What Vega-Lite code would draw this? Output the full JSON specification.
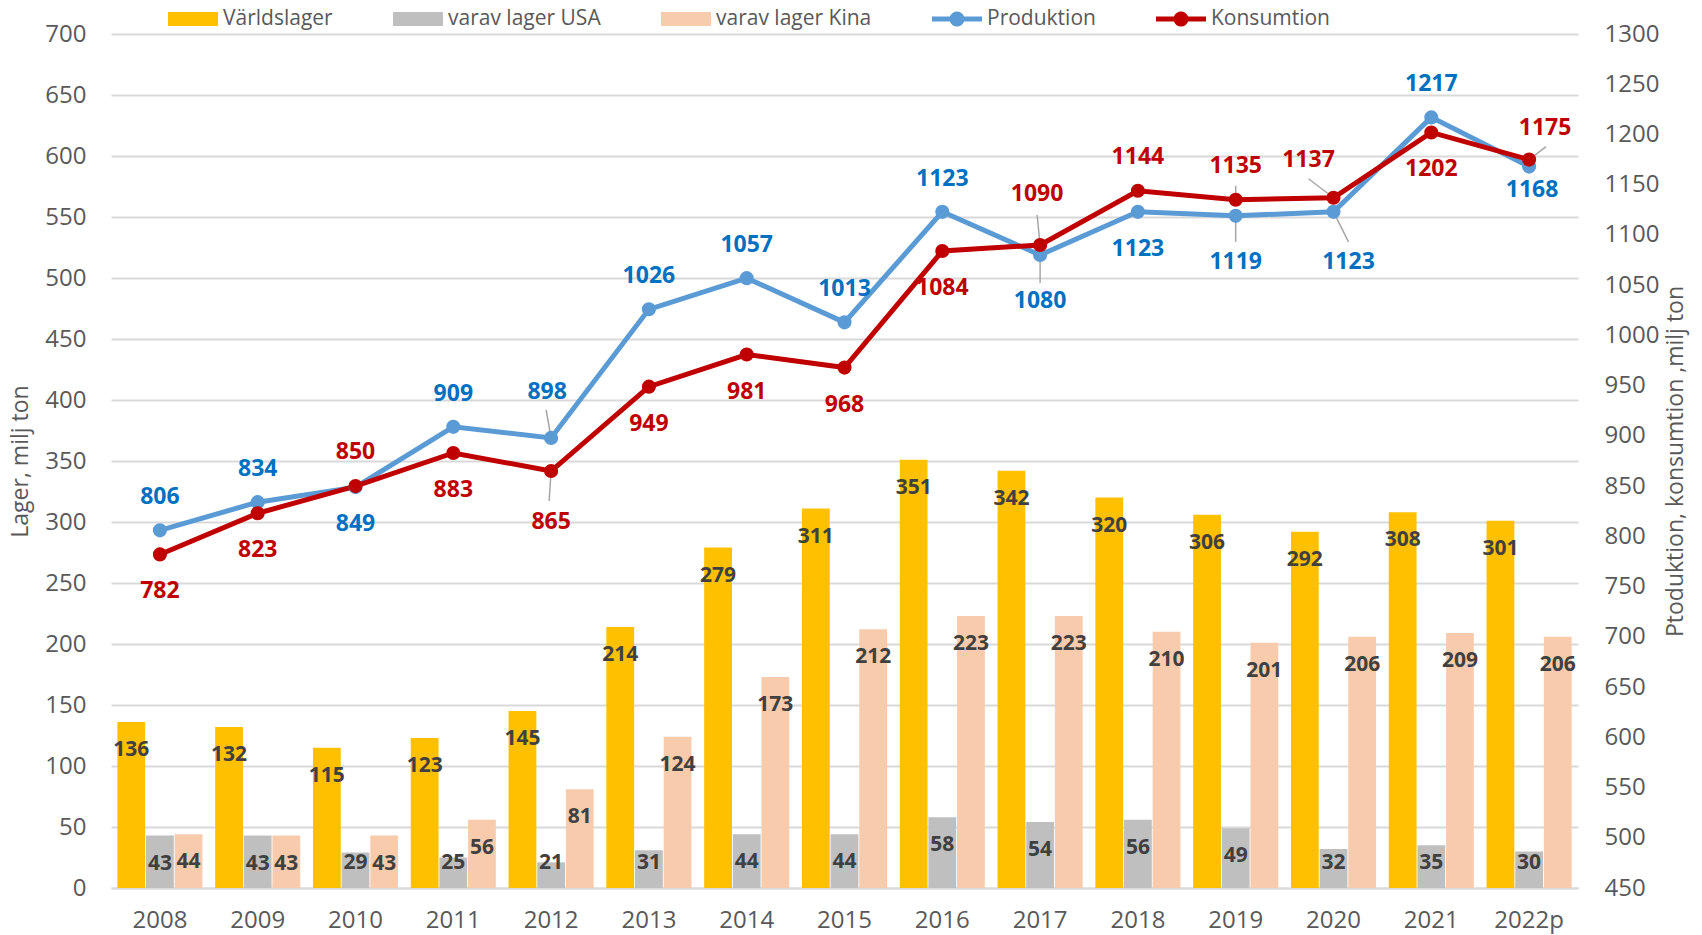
{
  "$schema": "https://vega.github.io/schema/vega-lite/v6.json",
  "width": 1467,
  "height": 854,
  "autosize": {"type": "none"},
  "padding": {"left": 111, "top": 34, "right": 124, "bottom": 47},
  "background": "white",
  "config": {
    "font": "Open Sans",
    "view": {"stroke": null},
    "axis": {
      "labelFont": "Open Sans",
      "titleFont": "Open Sans",
      "labelColor": "#595959",
      "titleColor": "#595959",
      "labelFontSize": 24,
      "titleFontSize": 23,
      "titleFontWeight": "normal",
      "ticks": false,
      "domain": false,
      "gridColor": "#D9D9D9",
      "gridWidth": 2
    }
  },
  "datasets": {
    "lager": [
      {"year": "2008", "series": "Världslager", "value": 136},
      {"year": "2009", "series": "Världslager", "value": 132},
      {"year": "2010", "series": "Världslager", "value": 115},
      {"year": "2011", "series": "Världslager", "value": 123},
      {"year": "2012", "series": "Världslager", "value": 145},
      {"year": "2013", "series": "Världslager", "value": 214},
      {"year": "2014", "series": "Världslager", "value": 279},
      {"year": "2015", "series": "Världslager", "value": 311},
      {"year": "2016", "series": "Världslager", "value": 351},
      {"year": "2017", "series": "Världslager", "value": 342},
      {"year": "2018", "series": "Världslager", "value": 320},
      {"year": "2019", "series": "Världslager", "value": 306},
      {"year": "2020", "series": "Världslager", "value": 292},
      {"year": "2021", "series": "Världslager", "value": 308},
      {"year": "2022p", "series": "Världslager", "value": 301},
      {"year": "2008", "series": "varav lager USA", "value": 43},
      {"year": "2009", "series": "varav lager USA", "value": 43},
      {"year": "2010", "series": "varav lager USA", "value": 29},
      {"year": "2011", "series": "varav lager USA", "value": 25},
      {"year": "2012", "series": "varav lager USA", "value": 21},
      {"year": "2013", "series": "varav lager USA", "value": 31},
      {"year": "2014", "series": "varav lager USA", "value": 44},
      {"year": "2015", "series": "varav lager USA", "value": 44},
      {"year": "2016", "series": "varav lager USA", "value": 58},
      {"year": "2017", "series": "varav lager USA", "value": 54},
      {"year": "2018", "series": "varav lager USA", "value": 56},
      {"year": "2019", "series": "varav lager USA", "value": 49},
      {"year": "2020", "series": "varav lager USA", "value": 32},
      {"year": "2021", "series": "varav lager USA", "value": 35},
      {"year": "2022p", "series": "varav lager USA", "value": 30},
      {"year": "2008", "series": "varav lager Kina", "value": 44},
      {"year": "2009", "series": "varav lager Kina", "value": 43},
      {"year": "2010", "series": "varav lager Kina", "value": 43},
      {"year": "2011", "series": "varav lager Kina", "value": 56},
      {"year": "2012", "series": "varav lager Kina", "value": 81},
      {"year": "2013", "series": "varav lager Kina", "value": 124},
      {"year": "2014", "series": "varav lager Kina", "value": 173},
      {"year": "2015", "series": "varav lager Kina", "value": 212},
      {"year": "2016", "series": "varav lager Kina", "value": 223},
      {"year": "2017", "series": "varav lager Kina", "value": 223},
      {"year": "2018", "series": "varav lager Kina", "value": 210},
      {"year": "2019", "series": "varav lager Kina", "value": 201},
      {"year": "2020", "series": "varav lager Kina", "value": 206},
      {"year": "2021", "series": "varav lager Kina", "value": 209},
      {"year": "2022p", "series": "varav lager Kina", "value": 206}
    ],
    "linjer": [
      {"year": "2008", "series": "Produktion", "value": 806},
      {"year": "2009", "series": "Produktion", "value": 834},
      {"year": "2010", "series": "Produktion", "value": 849},
      {"year": "2011", "series": "Produktion", "value": 909},
      {"year": "2012", "series": "Produktion", "value": 898},
      {"year": "2013", "series": "Produktion", "value": 1026},
      {"year": "2014", "series": "Produktion", "value": 1057},
      {"year": "2015", "series": "Produktion", "value": 1013},
      {"year": "2016", "series": "Produktion", "value": 1123},
      {"year": "2017", "series": "Produktion", "value": 1080},
      {"year": "2018", "series": "Produktion", "value": 1123},
      {"year": "2019", "series": "Produktion", "value": 1119},
      {"year": "2020", "series": "Produktion", "value": 1123},
      {"year": "2021", "series": "Produktion", "value": 1217},
      {"year": "2022p", "series": "Produktion", "value": 1168},
      {"year": "2008", "series": "Konsumtion", "value": 782},
      {"year": "2009", "series": "Konsumtion", "value": 823},
      {"year": "2010", "series": "Konsumtion", "value": 850},
      {"year": "2011", "series": "Konsumtion", "value": 883},
      {"year": "2012", "series": "Konsumtion", "value": 865},
      {"year": "2013", "series": "Konsumtion", "value": 949},
      {"year": "2014", "series": "Konsumtion", "value": 981},
      {"year": "2015", "series": "Konsumtion", "value": 968},
      {"year": "2016", "series": "Konsumtion", "value": 1084},
      {"year": "2017", "series": "Konsumtion", "value": 1090},
      {"year": "2018", "series": "Konsumtion", "value": 1144},
      {"year": "2019", "series": "Konsumtion", "value": 1135},
      {"year": "2020", "series": "Konsumtion", "value": 1137},
      {"year": "2021", "series": "Konsumtion", "value": 1202},
      {"year": "2022p", "series": "Konsumtion", "value": 1175}
    ]
  },
  "encoding": {
    "x": {
      "field": "year",
      "type": "nominal",
      "scale": {
        "domain": ["2008","2009","2010","2011","2012","2013","2014","2015","2016","2017","2018","2019","2020","2021","2022p"],
        "paddingInner": 0.13,
        "paddingOuter": 0.065
      },
      "axis": {
        "title": null,
        "labelAngle": 0,
        "labelPadding": 20,
        "domain": true,
        "domainColor": "#D9D9D9",
        "domainWidth": 2,
        "grid": false
      }
    }
  },
  "layer": [
    {
      "data": {"name": "lager"},
      "encoding": {
        "y": {
          "field": "value",
          "type": "quantitative",
          "scale": {"domain": [0, 700], "nice": false},
          "axis": {
            "title": "Lager, milj ton",
            "values": [0,50,100,150,200,250,300,350,400,450,500,550,600,650,700],
            "grid": true,
            "labelPadding": 25,
            "titlePadding": 12
          }
        },
        "xOffset": {
          "field": "series",
          "type": "nominal",
          "sort": ["Världslager", "varav lager USA", "varav lager Kina"],
          "scale": {"paddingInner": 0.03, "paddingOuter": 0}
        }
      },
      "layer": [
        {
          "mark": {"type": "bar"},
          "encoding": {
            "color": {
              "field": "series",
              "type": "nominal",
              "scale": {
                "domain": ["Världslager", "varav lager USA", "varav lager Kina", "Produktion", "Konsumtion"],
                "range": ["#FFC000", "#BFBFBF", "#F8CBAD", "#5B9BD5", "#C00000"]
              },
              "legend": {
                "title": null,
                "orient": "none",
                "legendX": 57,
                "legendY": -40,
                "direction": "horizontal",
                "padding": 0,
                "symbolSize": 2500,
                "labelFont": "Open Sans",
                "labelFontSize": 21,
                "labelColor": "#595959",
                "labelOffset": 5,
                "columnPadding": 60,
                "encode": {
                  "symbols": {
                    "update": {
                      "shape": {"signal": "indexof(['Produktion','Konsumtion'], datum.value) >= 0 ? 'M-1,-0.1L-0.283,-0.1A0.3,0.3 0 0,1 0.283,-0.1L1,-0.1L1,0.1L0.283,0.1A0.3,0.3 0 0,1 -0.283,0.1L-1,0.1Z' : 'M-1,-0.28L1,-0.28L1,0.28L-1,0.28Z'"},
                      "fill": {"scale": "color", "field": "value"},
                      "stroke": {"value": "transparent"},
                      "strokeWidth": {"value": 0},
                      "opacity": {"value": 1}
                    }
                  }
                }
              }
            }
          }
        },
        {
          "transform": [{"filter": "datum.value >= 43"}],
          "mark": {"type": "text", "dy": 28, "fontWeight": "bold", "fontSize": 21, "color": "#404040", "font": "Open Sans"},
          "encoding": {"text": {"field": "value", "type": "quantitative"}}
        },
        {
          "transform": [{"filter": "datum.value < 43"}],
          "mark": {"type": "text", "dy": -25, "fontWeight": "bold", "fontSize": 21, "color": "#404040", "font": "Open Sans"},
          "encoding": {
            "y": {
              "datum": 0,
              "type": "quantitative",
              "scale": {"domain": [0, 700], "nice": false},
              "axis": {
                "title": "Lager, milj ton",
                "values": [0,50,100,150,200,250,300,350,400,450,500,550,600,650,700],
                "grid": true,
                "labelPadding": 25,
                "titlePadding": 12
              }
            },
            "text": {"field": "value", "type": "quantitative"}
          }
        }
      ]
    },
    {
      "data": {"name": "linjer"},
      "encoding": {
        "y": {
          "field": "value",
          "type": "quantitative",
          "scale": {"domain": [450, 1300], "nice": false, "zero": false},
          "axis": {
            "orient": "right",
            "title": "Ptoduktion, konsumtion ,milj ton",
            "titleAngle": 270,
            "titleBaseline": "top",
            "format": "d",
            "values": [450,500,550,600,650,700,750,800,850,900,950,1000,1050,1100,1150,1200,1250,1300],
            "grid": false,
            "labelPadding": 26,
            "titlePadding": 6
          }
        }
      },
      "layer": [
        {
          "transform": [{"filter": {"and": [{"field": "series", "equal": "Produktion"}, {"field": "year", "equal": "2012"}]}}],
          "mark": {"type": "rule", "color": "#A6A6A6", "strokeWidth": 1.5, "y2Offset": -28, "x2Offset": -5},
          "encoding": {"x": {"field": "year", "type": "nominal", "bandPosition": 0.5}, "x2": {"field": "year", "bandPosition": 0.5}, "y2": {"field": "value"}}
        },
        {
          "transform": [{"filter": {"and": [{"field": "series", "equal": "Konsumtion"}, {"field": "year", "equal": "2012"}]}}],
          "mark": {"type": "rule", "color": "#A6A6A6", "strokeWidth": 1.5, "y2Offset": 30, "x2Offset": -2},
          "encoding": {"x": {"field": "year", "type": "nominal", "bandPosition": 0.5}, "x2": {"field": "year", "bandPosition": 0.5}, "y2": {"field": "value"}}
        },
        {
          "transform": [{"filter": {"and": [{"field": "series", "equal": "Produktion"}, {"field": "year", "equal": "2017"}]}}],
          "mark": {"type": "rule", "color": "#A6A6A6", "strokeWidth": 1.5, "y2Offset": 28, "x2Offset": 0},
          "encoding": {"x": {"field": "year", "type": "nominal", "bandPosition": 0.5}, "x2": {"field": "year", "bandPosition": 0.5}, "y2": {"field": "value"}}
        },
        {
          "transform": [{"filter": {"and": [{"field": "series", "equal": "Konsumtion"}, {"field": "year", "equal": "2017"}]}}],
          "mark": {"type": "rule", "color": "#A6A6A6", "strokeWidth": 1.5, "y2Offset": -30, "x2Offset": -3},
          "encoding": {"x": {"field": "year", "type": "nominal", "bandPosition": 0.5}, "x2": {"field": "year", "bandPosition": 0.5}, "y2": {"field": "value"}}
        },
        {
          "transform": [{"filter": {"and": [{"field": "series", "equal": "Produktion"}, {"field": "year", "equal": "2019"}]}}],
          "mark": {"type": "rule", "color": "#A6A6A6", "strokeWidth": 1.5, "y2Offset": 26, "x2Offset": 0},
          "encoding": {"x": {"field": "year", "type": "nominal", "bandPosition": 0.5}, "x2": {"field": "year", "bandPosition": 0.5}, "y2": {"field": "value"}}
        },
        {
          "transform": [{"filter": {"and": [{"field": "series", "equal": "Konsumtion"}, {"field": "year", "equal": "2019"}]}}],
          "mark": {"type": "rule", "color": "#A6A6A6", "strokeWidth": 1.5, "y2Offset": -14, "x2Offset": 0},
          "encoding": {"x": {"field": "year", "type": "nominal", "bandPosition": 0.5}, "x2": {"field": "year", "bandPosition": 0.5}, "y2": {"field": "value"}}
        },
        {
          "transform": [{"filter": {"and": [{"field": "series", "equal": "Produktion"}, {"field": "year", "equal": "2020"}]}}],
          "mark": {"type": "rule", "color": "#A6A6A6", "strokeWidth": 1.5, "y2Offset": 30, "x2Offset": 15},
          "encoding": {"x": {"field": "year", "type": "nominal", "bandPosition": 0.5}, "x2": {"field": "year", "bandPosition": 0.5}, "y2": {"field": "value"}}
        },
        {
          "transform": [{"filter": {"and": [{"field": "series", "equal": "Konsumtion"}, {"field": "year", "equal": "2020"}]}}],
          "mark": {"type": "rule", "color": "#A6A6A6", "strokeWidth": 1.5, "y2Offset": -19, "x2Offset": -25},
          "encoding": {"x": {"field": "year", "type": "nominal", "bandPosition": 0.5}, "x2": {"field": "year", "bandPosition": 0.5}, "y2": {"field": "value"}}
        },
        {
          "transform": [{"filter": {"and": [{"field": "series", "equal": "Konsumtion"}, {"field": "year", "equal": "2022p"}]}}],
          "mark": {"type": "rule", "color": "#A6A6A6", "strokeWidth": 1.5, "y2Offset": -13, "x2Offset": 17},
          "encoding": {"x": {"field": "year", "type": "nominal", "bandPosition": 0.5}, "x2": {"field": "year", "bandPosition": 0.5}, "y2": {"field": "value"}}
        },
        {
          "mark": {"type": "line", "strokeWidth": 5},
          "encoding": {
            "color": {
              "field": "series",
              "type": "nominal",
              "scale": {
                "domain": ["Världslager", "varav lager USA", "varav lager Kina", "Produktion", "Konsumtion"],
                "range": ["#FFC000", "#BFBFBF", "#F8CBAD", "#5B9BD5", "#C00000"]
              }
            },
            "order": {"field": "year"}
          }
        },
        {
          "mark": {"type": "point", "filled": true, "shape": "circle", "size": 200, "opacity": 1},
          "encoding": {
            "color": {
              "field": "series",
              "type": "nominal",
              "scale": {
                "domain": ["Världslager", "varav lager USA", "varav lager Kina", "Produktion", "Konsumtion"],
                "range": ["#FFC000", "#BFBFBF", "#F8CBAD", "#5B9BD5", "#C00000"]
              }
            }
          }
        },
        {
          "transform": [{"filter": {"and": [{"field": "series", "equal": "Produktion"}, {"field": "year", "oneOf": ["2008","2009","2011","2013","2014","2015","2016","2021"]}]}}],
          "mark": {"type": "text", "fontWeight": "bold", "fontSize": 23, "color": "#0070C0", "dy": -33},
          "encoding": {"text": {"field": "value", "type": "quantitative"}}
        },
        {
          "transform": [{"filter": {"and": [{"field": "series", "equal": "Produktion"}, {"field": "year", "oneOf": ["2010","2018"]}]}}],
          "mark": {"type": "text", "fontWeight": "bold", "fontSize": 23, "color": "#0070C0", "dy": 37},
          "encoding": {"text": {"field": "value", "type": "quantitative"}}
        },
        {
          "transform": [{"filter": {"and": [{"field": "series", "equal": "Produktion"}, {"field": "year", "equal": "2012"}]}}],
          "mark": {"type": "text", "fontWeight": "bold", "fontSize": 23, "color": "#0070C0", "dy": -46, "dx": -4},
          "encoding": {"text": {"field": "value", "type": "quantitative"}}
        },
        {
          "transform": [{"filter": {"and": [{"field": "series", "equal": "Produktion"}, {"field": "year", "oneOf": ["2017","2019"]}]}}],
          "mark": {"type": "text", "fontWeight": "bold", "fontSize": 23, "color": "#0070C0", "dy": 46},
          "encoding": {"text": {"field": "value", "type": "quantitative"}}
        },
        {
          "transform": [{"filter": {"and": [{"field": "series", "equal": "Produktion"}, {"field": "year", "equal": "2020"}]}}],
          "mark": {"type": "text", "fontWeight": "bold", "fontSize": 23, "color": "#0070C0", "dy": 50, "dx": 15},
          "encoding": {"text": {"field": "value", "type": "quantitative"}}
        },
        {
          "transform": [{"filter": {"and": [{"field": "series", "equal": "Produktion"}, {"field": "year", "equal": "2022p"}]}}],
          "mark": {"type": "text", "fontWeight": "bold", "fontSize": 23, "color": "#0070C0", "dy": 23, "dx": 3},
          "encoding": {"text": {"field": "value", "type": "quantitative"}}
        },
        {
          "transform": [{"filter": {"and": [{"field": "series", "equal": "Konsumtion"}, {"field": "year", "oneOf": ["2008","2009","2011","2013","2014","2015","2016","2021"]}]}}],
          "mark": {"type": "text", "fontWeight": "bold", "fontSize": 23, "color": "#C00000", "dy": 37},
          "encoding": {"text": {"field": "value", "type": "quantitative"}}
        },
        {
          "transform": [{"filter": {"and": [{"field": "series", "equal": "Konsumtion"}, {"field": "year", "oneOf": ["2010","2018","2019"]}]}}],
          "mark": {"type": "text", "fontWeight": "bold", "fontSize": 23, "color": "#C00000", "dy": -34},
          "encoding": {"text": {"field": "value", "type": "quantitative"}}
        },
        {
          "transform": [{"filter": {"and": [{"field": "series", "equal": "Konsumtion"}, {"field": "year", "equal": "2012"}]}}],
          "mark": {"type": "text", "fontWeight": "bold", "fontSize": 23, "color": "#C00000", "dy": 51},
          "encoding": {"text": {"field": "value", "type": "quantitative"}}
        },
        {
          "transform": [{"filter": {"and": [{"field": "series", "equal": "Konsumtion"}, {"field": "year", "equal": "2017"}]}}],
          "mark": {"type": "text", "fontWeight": "bold", "fontSize": 23, "color": "#C00000", "dy": -51, "dx": -3},
          "encoding": {"text": {"field": "value", "type": "quantitative"}}
        },
        {
          "transform": [{"filter": {"and": [{"field": "series", "equal": "Konsumtion"}, {"field": "year", "equal": "2020"}]}}],
          "mark": {"type": "text", "fontWeight": "bold", "fontSize": 23, "color": "#C00000", "dy": -38, "dx": -25},
          "encoding": {"text": {"field": "value", "type": "quantitative"}}
        },
        {
          "transform": [{"filter": {"and": [{"field": "series", "equal": "Konsumtion"}, {"field": "year", "equal": "2022p"}]}}],
          "mark": {"type": "text", "fontWeight": "bold", "fontSize": 23, "color": "#C00000", "dy": -32, "dx": 16},
          "encoding": {"text": {"field": "value", "type": "quantitative"}}
        }
      ]
    }
  ],
  "resolve": {"scale": {"y": "independent"}}
}
